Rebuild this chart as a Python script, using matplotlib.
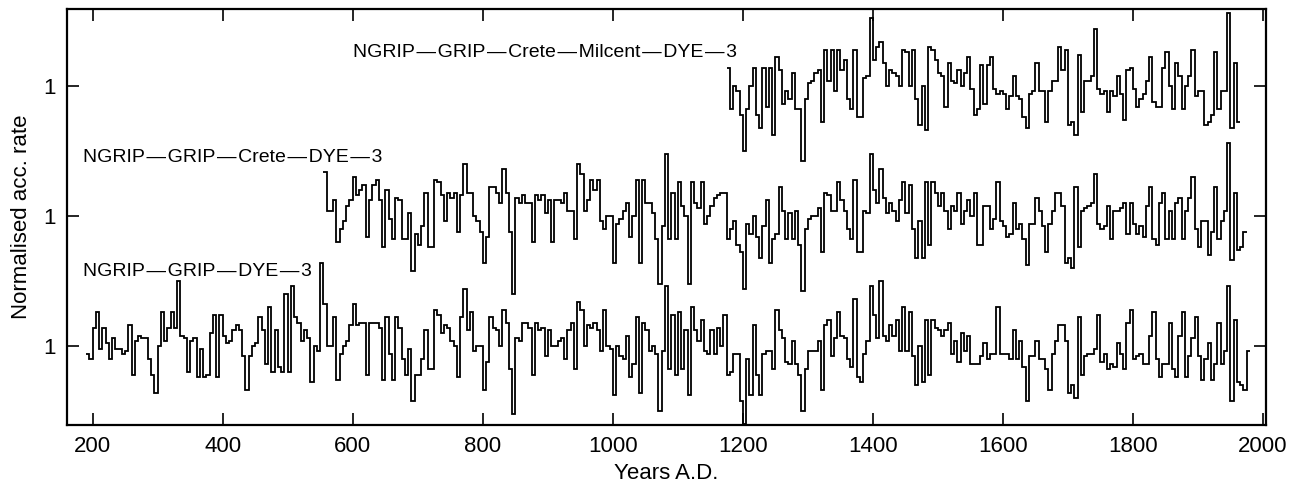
import numpy as np
import matplotlib
matplotlib.use('Agg')
import matplotlib.pyplot as plt

plt.rcParams['font.family'] = ['Liberation Sans', 'DejaVu Sans']

# ---------------------------------------------------------------
# normalised accumulation rates, 5-year steps
step = 5

# NGRIP-GRIP-DYE-3, from 190 A.D.
start_dye3 = 190
acc_dye3 = [
    0.97, 0.95, 1.07, 1.13, 0.99, 1.07, 1.01, 0.95, 1.03, 0.99,
    0.99, 0.97, 0.98, 1.08, 0.89, 1.02, 1.04, 1.03, 1.03, 0.95,
    0.89, 0.82, 1.00, 1.13, 1.02, 1.07, 1.13, 1.07, 1.25, 1.04,
    1.03, 0.90, 1.02, 1.03, 0.88, 0.99, 0.88, 0.89, 1.05, 1.12,
    0.88, 1.12, 1.04, 1.01, 1.02, 1.06, 1.08, 1.06, 0.96, 0.83,
    0.96, 1.00, 1.01, 1.11, 1.06, 0.93, 1.15, 0.90, 1.06, 0.92,
    0.90, 1.20, 0.90, 1.23, 1.11, 1.09, 1.02, 1.06, 1.03, 0.86,
    1.00, 0.98,
    1.32, 1.16, 1.00, 1.00, 1.11, 0.87, 0.97, 1.00, 1.02, 1.08,
    1.16, 1.08, 1.09, 1.09, 0.89, 1.09, 1.09, 1.09, 1.07, 0.87,
    1.11, 0.97, 0.87, 1.11, 1.07, 0.95, 0.89, 0.99, 0.79, 0.89,
    0.89, 0.95, 1.06, 0.91, 0.91, 1.14, 1.12, 1.05, 1.08, 1.07,
    1.02, 1.00, 0.88, 1.11, 1.22, 1.06, 1.13, 0.98, 1.00, 1.00,
    0.83, 0.94, 1.11, 1.07, 1.06, 1.00, 1.14, 1.09, 0.91, 0.74,
    1.03, 1.02, 1.09, 1.09, 1.07, 0.89, 1.09, 1.06, 1.07, 0.96,
    1.06, 1.00, 1.00,
    1.02, 1.03, 0.95, 1.06, 1.09, 0.91, 1.17, 1.14, 1.00, 1.08,
    1.07, 1.09, 1.06, 0.98, 1.14, 1.00, 0.99, 0.81, 1.00, 0.96,
    0.95, 1.04, 0.88, 0.93, 1.11, 0.82, 1.09, 1.06, 0.98, 1.00,
    0.97, 0.75, 0.98, 1.23, 0.91, 1.12, 0.89, 1.13, 0.91, 1.06,
    0.81, 1.15, 1.06, 1.02, 1.10, 0.98, 0.97, 1.06, 0.97, 1.07,
    1.00, 1.12, 0.89, 0.90, 0.97, 0.97, 0.79, 0.70, 0.95, 0.81,
    1.08, 0.89, 0.81, 0.97, 0.98, 0.98, 0.91, 1.14, 1.06, 1.03,
    0.94, 0.93, 1.02, 0.93,
    0.89, 0.75, 0.91, 0.98, 0.98, 0.98, 1.02, 0.83, 1.08, 1.10,
    0.96, 1.03, 1.13, 1.04, 1.03, 0.95, 0.92, 1.18, 0.88, 0.86,
    0.97, 1.02, 1.23, 1.12, 1.03, 1.25, 1.04, 1.02, 1.08, 1.04,
    1.10, 0.98, 1.15, 0.98, 1.13, 0.96, 0.85, 1.00, 0.86, 1.10,
    0.89, 1.10, 1.07, 1.06, 1.04, 1.06, 1.09, 0.97, 1.02, 0.94,
    1.05, 0.98, 1.04, 0.93, 0.93, 0.93, 0.96, 1.01, 0.95, 0.97,
    0.97, 1.15, 0.97, 0.97, 0.97, 0.95, 1.06, 0.95, 1.02, 0.92,
    0.79, 0.96, 0.96,
    1.02, 0.95, 0.95, 0.91, 0.83, 0.97, 1.02, 1.08, 1.08, 1.02,
    0.82, 0.85, 0.80, 1.11, 0.89, 0.96, 0.97, 0.97, 0.99, 1.12,
    0.94, 0.97, 0.91, 0.93, 0.92, 1.01, 0.97, 0.91, 1.09, 1.14,
    0.95, 0.96, 0.97, 0.93, 0.93, 1.04, 1.13, 0.95, 0.88, 0.93,
    0.93, 1.09, 0.91, 0.88, 1.04, 1.13, 0.88, 0.96, 1.03, 1.11,
    0.96, 0.87, 0.95, 1.01, 0.87, 0.93, 1.09, 0.93, 0.98, 1.23,
    0.79, 1.10, 0.86, 0.85, 0.83, 0.98,
]

# NGRIP-GRIP-Crete-DYE-3, from 555 A.D.
start_crete = 555
acc_crete = [
    1.17, 1.02, 1.02, 1.06, 0.90, 0.95, 0.98, 1.04, 1.06,
    1.15, 1.08, 1.10, 1.12, 0.92, 1.06, 1.12, 1.14, 1.06, 0.88,
    1.10, 0.99, 0.91, 1.07, 1.06, 0.91, 0.91, 1.01, 0.79, 0.93,
    0.89, 0.96, 1.09, 0.88, 0.88, 1.14, 1.13, 1.08, 0.98, 1.09,
    1.07, 1.09, 0.94, 1.08, 1.20, 1.09, 1.09, 1.00, 0.98, 0.94,
    0.82, 0.92, 1.11, 1.11, 1.09, 1.05, 1.18, 1.09, 0.94, 0.70,
    1.07, 1.05, 1.08, 1.05, 1.05, 0.90, 1.08, 1.06, 1.08, 1.01,
    1.06, 0.90, 1.06,
    1.06, 1.05, 1.09, 1.02, 1.02, 0.91, 1.20, 1.16, 1.02, 1.06,
    1.14, 1.10, 1.14, 0.98, 0.95, 1.00, 1.00, 0.82, 0.97, 0.99,
    1.02, 1.05, 0.92, 1.00, 1.14, 0.82, 1.14, 1.05, 1.05, 1.01,
    0.91, 0.74, 0.96, 1.24, 0.91, 1.09, 0.91, 1.13, 1.04, 1.00,
    0.74, 1.13, 1.05, 1.03, 1.13, 0.97, 1.00, 1.04, 1.07, 1.08,
    1.09, 1.09, 0.91, 0.95, 0.98, 0.89, 0.86, 0.72, 0.97, 0.93,
    1.00, 0.92, 0.84, 0.96, 1.06, 0.82, 0.91, 0.93, 1.11, 1.02,
    0.91, 1.01, 0.91, 1.02,
    0.89, 0.71, 0.95, 0.99, 1.00, 1.00, 1.03, 0.86, 1.09, 1.08,
    1.02, 1.02, 1.13, 1.06, 1.02, 0.95, 0.91, 1.14, 0.86, 0.86,
    1.02, 1.01, 1.24, 1.10, 1.05, 1.18, 1.07, 1.01, 1.05, 1.02,
    0.98, 1.06, 1.13, 1.01, 1.12, 0.95, 0.84, 0.98, 0.84, 1.13,
    0.89, 1.13, 1.09, 1.04, 1.09, 1.02, 0.95, 1.04, 1.02, 1.09,
    0.97, 1.02, 1.06, 1.00, 1.09, 0.89, 0.89, 1.04, 1.04, 0.95,
    0.99, 1.13, 0.98, 0.96, 0.92, 0.93, 1.05, 0.95, 0.97, 0.91,
    0.81, 0.97, 0.97,
    1.07, 1.02, 0.96, 0.86, 0.97, 1.02, 1.09, 1.09, 1.04, 0.82,
    0.84, 0.80, 1.11, 0.88, 1.02, 1.03, 1.04, 1.05, 1.16, 0.97,
    0.95, 0.96, 1.04, 0.91, 1.02, 1.02, 1.03, 1.05, 0.93, 1.05,
    0.97, 0.93, 0.96, 0.92, 1.04, 1.11, 0.91, 0.89, 1.05, 1.09,
    0.91, 1.02, 0.91, 1.05, 1.07, 0.91, 1.02, 1.07, 1.15, 0.95,
    0.88, 0.98, 0.98, 0.85, 0.94, 1.11, 0.91, 0.98, 1.02, 1.28,
    0.83, 1.09, 0.87, 0.88, 0.94,
]

# NGRIP-GRIP-Crete-Milcent-DYE-3, from 1175 A.D.
start_milcent = 1175
acc_milcent = [
    1.07, 0.91, 1.00, 0.98, 0.89, 0.75, 0.91, 1.00, 1.07, 0.89,
    0.84, 1.07, 0.92, 1.07, 0.81, 1.11, 1.06, 0.93, 0.98, 0.95,
    1.05, 0.91,
    0.91, 0.71, 0.95, 1.01, 1.02, 1.05, 1.06, 0.86, 1.14, 1.02,
    1.14, 0.98, 1.14, 1.06, 1.10, 0.95, 0.91, 1.14, 0.88, 0.88,
    1.03, 1.04, 1.26, 1.10, 1.15, 1.17, 1.09, 1.00, 1.06, 1.05,
    1.04, 1.00, 1.14, 1.13, 1.00, 1.14, 0.95, 0.85, 1.00, 0.83,
    1.15, 1.14, 1.10, 1.05, 1.04, 0.92, 1.09, 1.02, 1.01, 1.06,
    1.00, 1.05, 1.11, 0.99, 0.89, 0.91, 1.08, 0.93, 1.08, 1.11,
    0.99, 0.97, 0.98, 0.97, 0.91, 0.96, 1.04, 0.96, 0.95, 0.88,
    0.84, 0.97, 0.98,
    1.09, 0.98, 0.98, 0.86, 0.98, 1.02, 1.02, 1.15, 1.06, 1.14,
    0.85, 0.86, 0.81, 1.12, 0.90, 1.02, 1.02, 1.04, 1.22, 0.99,
    0.97, 0.98, 0.90, 0.98, 0.96, 1.04, 0.97, 0.87, 1.06, 1.07,
    0.99, 0.92, 0.95, 0.97, 1.02, 1.11, 0.94, 0.92, 0.92, 1.07,
    1.13, 1.00, 0.91, 1.09, 1.04, 0.91, 1.00, 1.04, 1.14, 0.96,
    0.98, 0.98, 0.85, 0.86, 0.89, 1.13, 0.91, 0.98, 0.98, 1.28,
    0.84, 1.09, 0.86,
]

dash = '\u200a\u2014\u200a'
names = [dash.join(['NGRIP', 'GRIP', 'DYE', '3']),
         dash.join(['NGRIP', 'GRIP', 'Crete', 'DYE', '3']),
         dash.join(['NGRIP', 'GRIP', 'Crete', 'Milcent', 'DYE', '3'])]

#########################################################
# plot
fig = plt.figure(figsize=(13.02, 4.91), dpi=100)
ax = fig.add_axes([0.0515, 0.1344, 0.9209, 0.8473])

series = [(start_dye3, acc_dye3), (start_crete, acc_crete), (start_milcent, acc_milcent)]
shift = 0.5   # vertical spacing between the stacked records
for i, (start, acc) in enumerate(series):
    acc = np.array(acc)
    edges = start + step * np.arange(len(acc) + 1)
    ax.stairs(acc + i * shift, edges, baseline=None, color='black', linewidth=1.3)

ax.text(185, 1.285, names[0], fontsize=14, va='center', ha='left')
ax.text(185, 1.723, names[1], fontsize=14, va='center', ha='left')
ax.text(600, 2.127, names[2], fontsize=14, va='center', ha='left')

ax.set_xlim(160.5, 2005)
ax.set_ylim(0.696, 2.296)
ax.set_xticks(np.arange(200, 2001, 200))
ax.set_yticks([1.0, 1.5, 2.0])
ax.set_yticklabels(['1', '1', '1'])
ax.tick_params(direction='in', length=8.5, width=1.2, top=True, right=True,
               labelsize=16, pad=8)
for sp in ax.spines.values():
    sp.set_linewidth(1.6)

ax.set_xlabel('Years A.D.', fontsize=16, labelpad=4)
ax.set_ylabel('Normalised acc. rate', fontsize=16)
ax.yaxis.set_label_coords(-0.029, 0.5)

plt.savefig('out.png', dpi=100)
